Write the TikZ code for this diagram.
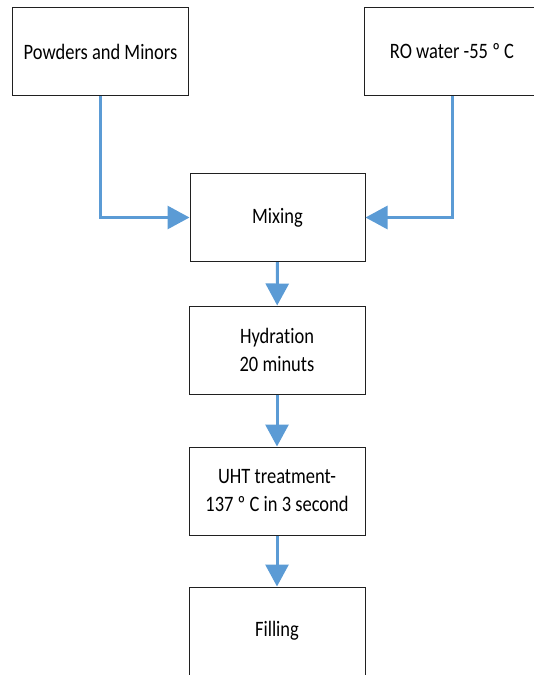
\documentclass[tikz,border=0pt]{standalone}
\usepackage{fontspec}
\setmainfont[FakeStretch=0.84,Ligatures=NoCommon]{Carlito}
\usepackage{xcolor}
\definecolor{cFlow}{HTML}{5B9BD5}
\definecolor{cLine}{HTML}{202020}
\usepackage{tikz}
\usetikzlibrary{positioning,arrows.meta}
\tikzset{
  step-box/.style={draw=cLine,line width=1pt,fill=white,
    minimum height=88pt,minimum width=176pt,align=center,
    font=\fontsize{22}{28}\selectfont,inner sep=0pt},
  flow/.style={-{Triangle[length=22pt,width=23pt]},line width=3pt,draw=cFlow},
}
\begin{document}
\begin{tikzpicture}[x=1pt,y=-1pt]
  \useasboundingbox (0,0) rectangle (534,675);
  \clip (0,0) rectangle (534,675);
  \node[step-box] (powders) at (100.5,51.5) {Powders and Minors};
  \node[step-box] (rowater) at (452,51.5) {RO water -55 º C};
  \node[step-box,minimum width=175pt] (mixing) at (277.5,217.5) {Mixing};
  \node[step-box] (hydration) at (277,350) {Hydration\\20 minuts};
  \node[step-box] (uht) at (277,491) {UHT treatment-\\137 º C in 3 second};
  \node[step-box] (filling) at (277,631) {Filling};
  \draw[flow] (powders.south) |- (mixing.west);
  \draw[flow] (rowater.south) |- (mixing.east);
  \draw[flow] (mixing) -- (hydration);
  \draw[flow] (hydration) -- (uht);
  \draw[flow] (uht) -- (filling);
\end{tikzpicture}
\end{document}
